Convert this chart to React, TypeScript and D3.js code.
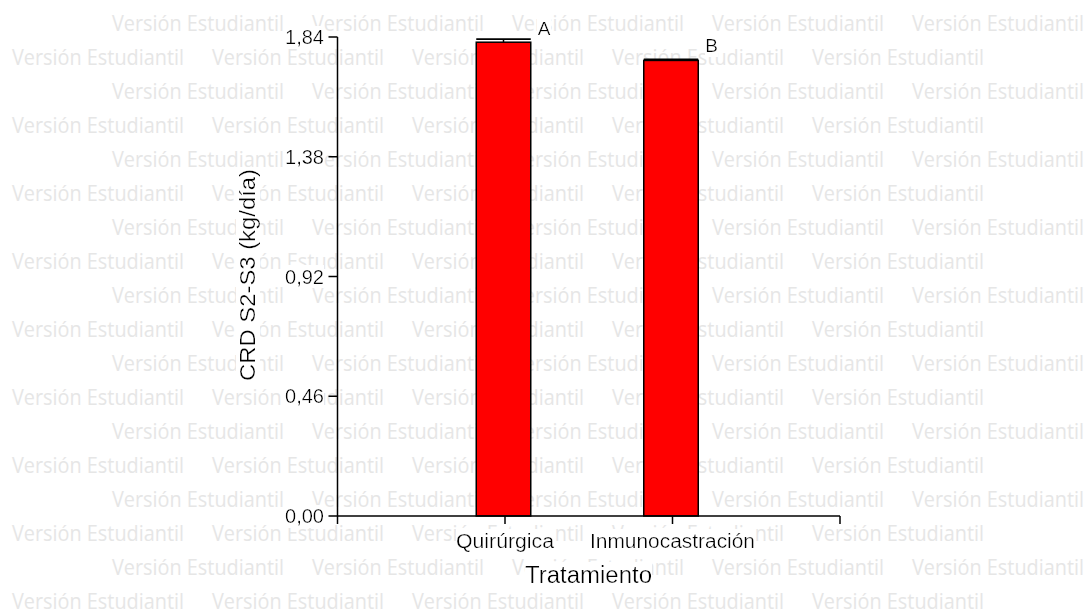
import React from "react";
import * as d3 from "d3";

const categories = ["Quirúrgica", "Inmunocastración"];
const means = [1.82, 1.75];
const errors = [0.012, 0.004];
const letters = ["A", "B"];
const yTicks = [0, 0.46, 0.92, 1.38, 1.84];
const yTickLabels = ["0,00", "0,46", "0,92", "1,38", "1,84"];
const xTitle = "Tratamiento";
const yTitle = "CRD S2-S3 (kg/día)";
const watermarkText = "Versión Estudiantil";

const W = 1087;
const H = 610;
const FONT = "'Liberation Sans', Arial, sans-serif";

export default function App() {
  const y = d3.scaleLinear().domain([0, 1.84]).range([516, 37]);
  const x = d3.scaleLinear().domain([0, 3]).range([337.5, 840]);
  const barW = 54.5;

  const wmRows = d3.range(18);
  const wm: { x: number; y: number }[] = [];
  wmRows.forEach((r) => {
    const start = r % 2 === 0 ? 112 : 12;
    for (let j = 0; j < 5; j++) wm.push({ x: start + 200 * j, y: 30.5 + 34 * r });
  });

  return (
    <svg
      width={W}
      height={H}
      style={{ position: "absolute", left: 0, top: 0, background: "#fff" }}
      fontFamily={FONT}
    >
      <defs>
        <filter id="whitebg" x="0" y="0" width="1" height="1">
          <feFlood floodColor="#ffffff" />
          <feComposite in="SourceGraphic" />
        </filter>
      </defs>
      <rect x={0} y={0} width={W} height={H} fill="#fff" />
      <g fill="#e6e6e6" fontFamily="'Open Sans', 'Noto Sans', sans-serif" fontSize={22}>
        {wm.map((p, i) => (
          <text key={i} x={p.x} y={p.y} textLength={172} lengthAdjust="spacingAndGlyphs">
            {watermarkText}
          </text>
        ))}
      </g>

      {/* bars */}
      {categories.map((c, i) => {
        const cx = x(i + 1) - 1.5;
        const top = y(means[i]);
        const errTop = y(means[i] + errors[i]);
        return (
          <g key={c}>
            <line x1={cx} x2={cx} y1={top} y2={errTop} stroke="#000" strokeWidth={1.5} />
            <line x1={cx - barW / 2} x2={cx + barW / 2} y1={errTop} y2={errTop} stroke="#000" strokeWidth={1.8} />
            <rect
              x={cx - barW / 2}
              y={top}
              width={barW}
              height={y(0) - top}
              fill="#ff0000"
              stroke="#000"
              strokeWidth={1.5}
            />
            <text
              x={cx + barW / 2 + 7}
              y={errTop - (i === 0 ? 4 : 7)}
              fontSize={19}
              fill="#000"
              filter="url(#whitebg)"
            >
              {letters[i]}
            </text>
          </g>
        );
      })}

      {/* y axis */}
      <line x1={x(0)} x2={x(0)} y1={y(1.84)} y2={y(0)} stroke="#000" strokeWidth={1.5} />
      {yTicks.map((t, i) => (
        <g key={t}>
          <line x1={x(0) - 9} x2={x(0)} y1={y(t)} y2={y(t)} stroke="#000" strokeWidth={1.5} />
          <text
            x={324}
            y={y(t)}
            dy="0.36em"
            textAnchor="end"
            fontSize={20}
            fill="#000"
            filter="url(#whitebg)"
          >
            {yTickLabels[i]}
          </text>
        </g>
      ))}

      {/* x axis */}
      <line x1={x(0)} x2={x(3)} y1={y(0)} y2={y(0)} stroke="#000" strokeWidth={1.5} />
      {[0, 1, 2, 3].map((t) => (
        <line key={t} x1={x(t)} x2={x(t)} y1={y(0)} y2={y(0) + 8} stroke="#000" strokeWidth={1.5} />
      ))}
      {categories.map((c, i) => (
        <text
          key={c}
          x={x(i + 1)}
          y={547.5}
          textAnchor="middle"
          fontSize={20}
          fill="#000"
          textLength={i === 0 ? 98 : 165}
          lengthAdjust="spacingAndGlyphs"
          filter="url(#whitebg)"
        >
          {c}
        </text>
      ))}

      <text
        x={588.5}
        y={583}
        textAnchor="middle"
        fontSize={23}
        fill="#000"
        textLength={127}
        lengthAdjust="spacingAndGlyphs"
        filter="url(#whitebg)"
      >
        {xTitle}
      </text>
      <text
        transform={`translate(255,275) rotate(-90)`}
        textAnchor="middle"
        fontSize={21.5}
        fill="#000"
        textLength={212}
        lengthAdjust="spacingAndGlyphs"
        filter="url(#whitebg)"
      >
        {yTitle}
      </text>
    </svg>
  );
}
